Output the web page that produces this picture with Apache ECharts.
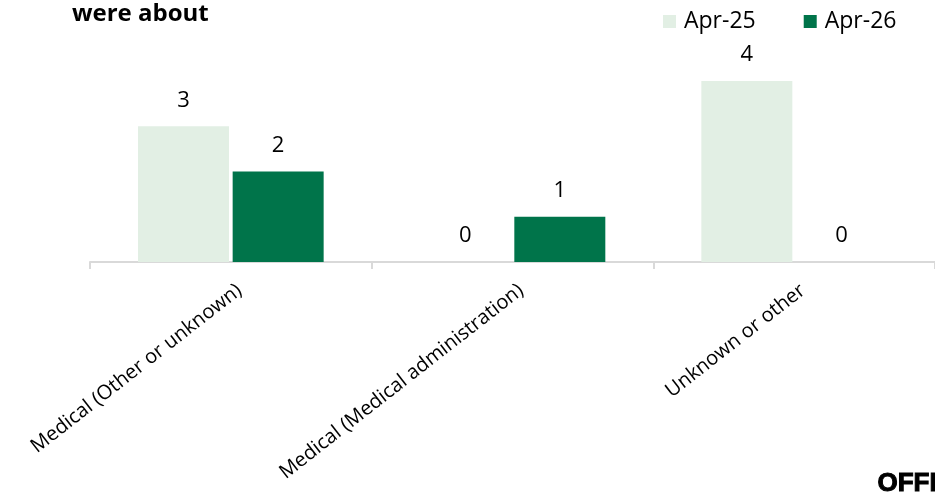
<!DOCTYPE html>
<html>
<head>
<meta charset="utf-8">
<script src="https://cdn.jsdelivr.net/npm/echarts@6/dist/echarts.min.js"></script>
<style>html,body{margin:0;padding:0;background:#fff;}#c{width:935px;height:495px;}</style>
</head>
<body>
<div id="c"></div>
<script>
const categories = ['Medical (Other or unknown)', 'Medical (Medical administration)', 'Unknown or other'];
const seriesNames = ['Apr-25', 'Apr-26'];
const apr25 = [3, 0, 4];
const apr26 = [2, 1, 0];
const titleText = 'were about';
const footerText = 'OFFICIAL';

const chart = echarts.init(document.getElementById('c'));
const font = '"Open Sans", sans-serif';
chart.setOption({
  animation: false,
  textStyle: { fontFamily: font },
  graphic: [
    { type: 'text', left: 72, top: 2, style: { text: titleText, font: 'bold 24px ' + font, fill: '#000' } },
    { type: 'text', left: 877, top: 470, style: { text: footerText, font: 'bold 26px "Liberation Sans", sans-serif', fill: '#000', stroke: '#000', lineWidth: 1 } }
  ],
  legend: {
    data: seriesNames,
    left: 658, top: 5,
    itemWidth: 13, itemHeight: 13, itemGap: 48,
    icon: 'rect',
    textStyle: { fontSize: 23, color: '#000', fontFamily: font, padding: [0, 0, 0, 3] }
  },
  grid: { left: 90, top: 81, width: 851, height: 181, containLabel: false },
  xAxis: {
    type: 'category', data: categories,
    axisLine: { lineStyle: { color: '#d9d9d9', width: 2 } },
    axisTick: { show: true, length: 7, lineStyle: { color: '#d9d9d9', width: 2 } },
    axisLabel: { rotate: 38, fontSize: 20, color: '#000', interval: 0, margin: 33, fontFamily: font, padding: [0, -11, 0, 0] }
  },
  yAxis: { type: 'value', min: 0, max: 4, show: false, splitLine: { show: false } },
  series: [
    { name: seriesNames[0], type: 'bar', data: apr25, barWidth: 91, barGap: '4%',
      itemStyle: { color: '#e2efe4' },
      label: { show: true, position: 'top', distance: 15, fontSize: 22, color: '#000', fontFamily: font } },
    { name: seriesNames[1], type: 'bar', data: apr26, barWidth: 91,
      itemStyle: { color: '#00744a' },
      label: { show: true, position: 'top', distance: 15, fontSize: 22, color: '#000', fontFamily: font } }
  ]
});
</script>
</body>
</html>
